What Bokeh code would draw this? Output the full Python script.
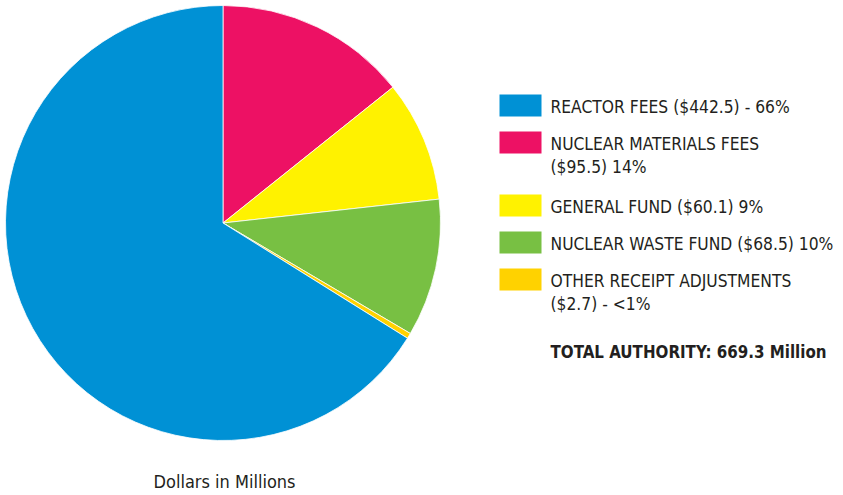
import math
from bokeh.plotting import figure
from bokeh.models import Range1d
from bokeh.core.properties import value
from bokeh.embed import file_html
from bokeh.resources import INLINE

# ---- data ----
pie_labels = ["NUCLEAR MATERIALS FEES", "GENERAL FUND", "NUCLEAR WASTE FUND",
              "OTHER RECEIPT ADJUSTMENTS", "REACTOR FEES"]
pie_values = [95.5, 60.1, 68.5, 2.7, 442.5]
pie_colors = ["#ED1164", "#FFF200", "#78C043", "#FFD200", "#0091D5"]

legend_texts = ["REACTOR FEES ($442.5) - 66%",
                "NUCLEAR MATERIALS FEES\n($95.5) 14%",
                "GENERAL FUND ($60.1) 9%",
                "NUCLEAR WASTE FUND ($68.5) 10%",
                "OTHER RECEIPT ADJUSTMENTS\n($2.7) - <1%"]
legend_colors = ["#0091D5", "#ED1164", "#FFF200", "#78C043", "#FFD200"]
total_text = "TOTAL AUTHORITY: 669.3 Million"
caption_text = "Dollars in Millions"

FONT = "DejaVu Sans Condensed, Roboto"
TXT = "#231F20"

W, H = 843, 495
p = figure(width=W, height=H, output_backend="svg", toolbar_location=None,
           x_range=Range1d(0, W), y_range=Range1d(0, H),
           min_border=0, outline_line_color=None)
p.axis.visible = False
p.grid.visible = False
p.background_fill_color = "white"
p.border_fill_color = "white"

def Y(py):
    return H - py

# ---- pie ----
cx, cy, r = 222.5, 222.5, 217.5
total = sum(pie_values)
starts, ends = [], []
cum = 0.0
for v in pie_values:
    starts.append(math.pi / 2 - 2 * math.pi * cum / total)
    cum += v
    ends.append(math.pi / 2 - 2 * math.pi * cum / total)
p.wedge(x=[cx] * len(pie_values), y=[Y(cy)] * len(pie_values), radius=r,
        start_angle=starts, end_angle=ends, direction="clock",
        fill_color=pie_colors, line_color="white", line_width=0.8)

# ---- legend ----
off = -7
sq_x, sq_w, sq_h = 499, 42, 22
text_x = 550
top = 94
line_h = 23.5
row_extra = 26
for txt, col in zip(legend_texts, legend_colors):
    lines = txt.split("\n")
    p.quad(left=sq_x, right=sq_x + sq_w, top=Y(top), bottom=Y(top + sq_h),
           fill_color=col, line_color=None)
    for i, ln in enumerate(lines):
        p.text(x=[text_x], y=[Y(top + 19 + i * line_h + off)], text=[ln],
               text_font=value(FONT), text_font_size="17.3px", text_color=TXT,
               text_baseline="alphabetic", text_align="left")
    top += 37 + row_extra * (len(lines) - 1)

p.text(x=[text_x], y=[Y(358 + off)], text=[total_text], text_font=value(FONT),
       text_font_size="16.8px", text_font_style="bold", text_color=TXT,
       text_baseline="alphabetic", text_align="left")

p.text(x=[153], y=[Y(488 + off)], text=[caption_text], text_font=value(FONT),
       text_font_size="18px", text_color=TXT,
       text_baseline="alphabetic", text_align="left")

open("out.html", "w").write(file_html(p, INLINE))
